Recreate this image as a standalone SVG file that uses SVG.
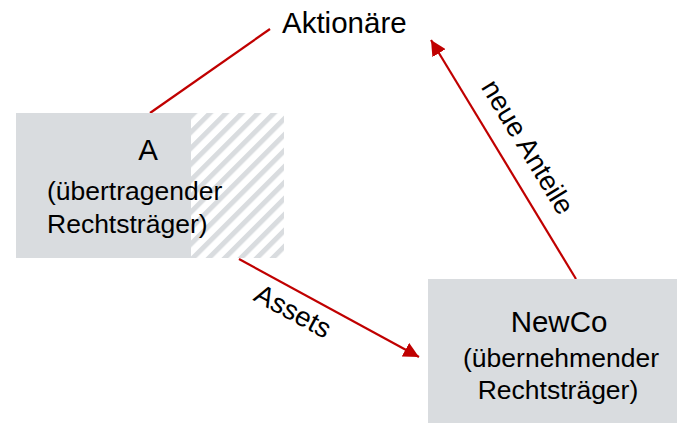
<svg xmlns="http://www.w3.org/2000/svg" width="677" height="427" viewBox="0 0 677 427">
<style>
text{font-family:"Liberation Sans",Arial,sans-serif;fill:#000}
.t{font-size:29.5px}
.s{font-size:26.5px}
.l{font-size:27.5px}
.c{stroke:#c00000;stroke-width:2.2;fill:none}
</style>
<defs>
<pattern id="hatch" patternUnits="userSpaceOnUse" width="11.3" height="11.3" patternTransform="rotate(45)">
<rect x="0" y="0" width="5" height="11.3" fill="#d9dcdf"/>
</pattern>
<marker id="ah" viewBox="0 0 10 10" refX="10" refY="5" markerWidth="7" markerHeight="7" markerUnits="strokeWidth" orient="auto">
<path d="M0,0 L10,5 L0,10 Z" fill="#c00000"/>
</marker>
</defs>
<g id="connectors">
<line class="c" x1="150" y1="113" x2="270" y2="29"/>
<line class="c" x1="239" y1="259" x2="419" y2="357" marker-end="url(#ah)"/>
<line class="c" x1="576" y1="279" x2="431" y2="40" marker-end="url(#ah)"/>
<text class="l" transform="translate(292,313) rotate(28.5)" text-anchor="middle" dominant-baseline="middle">Assets</text>
<text class="l" transform="translate(526,148) rotate(58.7)" text-anchor="middle" dominant-baseline="middle">neue Anteile</text>
</g>
<g id="aktionaere">
<text class="t" x="282" y="33">Aktionäre</text>
</g>
<g id="nodeA">
<rect x="190" y="113" width="94" height="145" fill="url(#hatch)"/>
<rect x="16" y="113" width="175" height="145" fill="#d9dcdf"/>
<text class="t" x="148" y="160" text-anchor="middle">A</text>
<text class="s" x="47" y="200">(übertragender</text>
<text class="s" x="47" y="233">Rechtsträger)</text>
</g>
<g id="newco">
<rect x="428" y="279" width="249" height="144" fill="#d9dcdf"/>
<text class="t" x="559" y="332" text-anchor="middle">NewCo</text>
<text class="s" x="561" y="367" text-anchor="middle">(übernehmender</text>
<text class="s" x="558" y="399" text-anchor="middle">Rechtsträger)</text>
</g>
</svg>
